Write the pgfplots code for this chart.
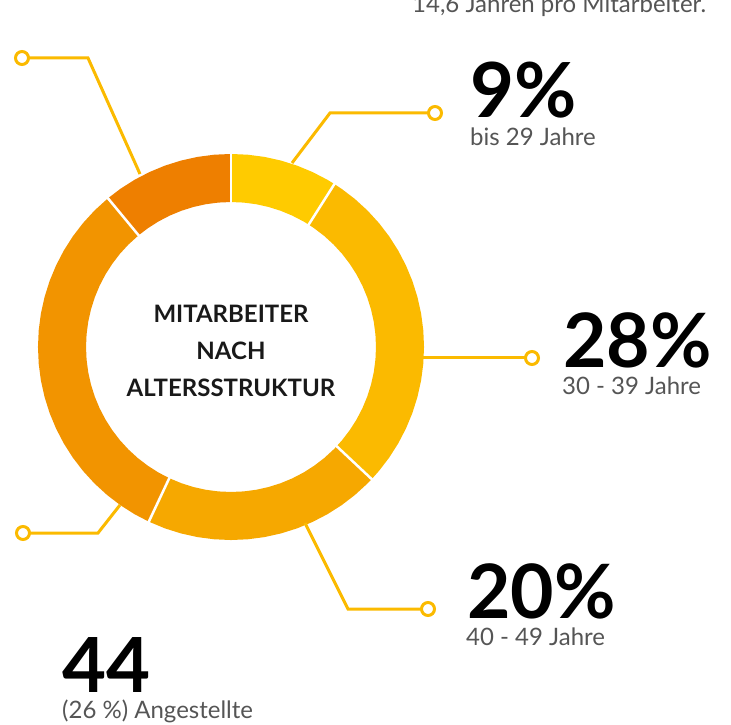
\documentclass[border=0pt]{standalone}
\usepackage{pgfplots}
\pgfplotsset{compat=1.18}
\usepackage{fontspec}
\setmainfont{Lato}
\definecolor{cA}{HTML}{FFCB00}
\definecolor{cB}{HTML}{FBBA00}
\definecolor{cC}{HTML}{F6A800}
\definecolor{cD}{HTML}{F29400}
\definecolor{cE}{HTML}{EE7F00}
\definecolor{lineC}{HTML}{FBBA00}
\definecolor{txtgray}{HTML}{555555}
\begin{document}
\begin{tikzpicture}
\begin{axis}[scale only axis, width=731pt, height=724pt,
  xmin=-231, xmax=500, ymin=-377, ymax=347, hide axis, clip=false]
% donut segments: 9%, 28%, 20%, 32%, 11% (clockwise from top), mid radius 169
\addplot[data cs=polar, cA, line width=48pt] coordinates {
(90,169)(85,169)(80,169)(75,169)(70,169)(65,169)(60,169)(57.6,169)};
\addplot[data cs=polar, cB, line width=48pt] coordinates {
(57.6,169)(55,169)(50,169)(45,169)(40,169)(35,169)(30,169)(25,169)(20,169)(15,169)(10,169)(5,169)(0,169)
(-5,169)(-10,169)(-15,169)(-20,169)(-25,169)(-30,169)(-35,169)(-40,169)(-43.2,169)};
\addplot[data cs=polar, cC, line width=48pt] coordinates {
(-43.2,169)(-45,169)(-50,169)(-55,169)(-60,169)(-65,169)(-70,169)(-75,169)(-80,169)(-85,169)
(-90,169)(-95,169)(-100,169)(-105,169)(-110,169)(-115.2,169)};
\addplot[data cs=polar, cD, line width=48pt] coordinates {
(-115.2,169)(-120,169)(-125,169)(-130,169)(-135,169)(-140,169)(-145,169)(-150,169)(-155,169)(-160,169)
(-165,169)(-170,169)(-175,169)(-180,169)(-185,169)(-190,169)(-195,169)(-200,169)(-205,169)(-210,169)
(-215,169)(-220,169)(-225,169)(-230.4,169)};
\addplot[data cs=polar, cE, line width=48pt] coordinates {
(-230.4,169)(-235,169)(-240,169)(-245,169)(-250,169)(-255,169)(-260,169)(-265,169)(-270,169)};
% separators
\addplot[data cs=polar, white, line width=2.5pt] coordinates {(90,140)(90,198)};
\addplot[data cs=polar, white, line width=2.5pt] coordinates {(57.6,140)(57.6,198)};
\addplot[data cs=polar, white, line width=2.5pt] coordinates {(-43.2,140)(-43.2,198)};
\addplot[data cs=polar, white, line width=2.5pt] coordinates {(-115.2,140)(-115.2,198)};
\addplot[data cs=polar, white, line width=2.5pt] coordinates {(-230.4,140)(-230.4,198)};
% leader lines
\addplot[lineC, line width=3pt] coordinates {(61,184)(99,234)(204,234)};
\addplot[lineC, line width=3pt] coordinates {(191,-11)(301,-11)};
\addplot[lineC, line width=3pt] coordinates {(74,-176)(117,-262)(197,-262)};
\addplot[lineC, line width=3pt] coordinates {(-111,-158)(-133,-186)(-208,-186)};
\addplot[lineC, line width=3pt] coordinates {(-91,173)(-143,289)(-209,289)};
\addplot[only marks, mark=*, mark size=6.5pt, mark options={fill=white, draw=lineC, line width=3pt}]
  coordinates {(204,234)(301,-11)(197,-262)(-208,-186)(-209,289)};
% texts
\node[anchor=base west, inner sep=0, text=txtgray, font=\fontsize{24}{28}\selectfont] at (axis cs:181,334) {14,6 Jahren pro Mitarbeiter.};
\node[anchor=base west, inner sep=0, font=\fontsize{76}{80}\selectfont\bfseries] at (axis cs:239,229) {9\%};
\node[anchor=base west, inner sep=0, text=txtgray, font=\fontsize{24}{28}\selectfont] at (axis cs:239,201) {bis 29 Jahre};
\node[anchor=base west, inner sep=0, font=\fontsize{75}{80}\selectfont\bfseries] at (axis cs:332,-21) {28\%};
\node[anchor=base west, inner sep=0, text=txtgray, font=\fontsize{24}{28}\selectfont] at (axis cs:331,-47) {30 - 39 Jahre};
\node[anchor=base west, inner sep=0, font=\fontsize{75}{80}\selectfont\bfseries] at (axis cs:236,-271) {20\%};
\node[anchor=base west, inner sep=0, text=txtgray, font=\fontsize{24}{28}\selectfont] at (axis cs:235,-298) {40 - 49 Jahre};
\node[anchor=base west, inner sep=0, font=\fontsize{76}{80}\selectfont\bfseries] at (axis cs:-169,-345) {44};
\node[anchor=base west, inner sep=0, text=txtgray, font=\fontsize{24}{28}\selectfont] at (axis cs:-169,-371) {(26 \%) Angestellte};
\node[anchor=base, inner sep=0, text=black!90, font=\fontsize{24}{28}\selectfont\bfseries] at (axis cs:0,24) {MITARBEITER};
\node[anchor=base, inner sep=0, text=black!90, font=\fontsize{24}{28}\selectfont\bfseries] at (axis cs:0,-13) {NACH};
\node[anchor=base, inner sep=0, text=black!90, font=\fontsize{24}{28}\selectfont\bfseries] at (axis cs:0,-50) {ALTERSSTRUKTUR};
\end{axis}
\pgfresetboundingbox
\useasboundingbox (current axis.south west) rectangle (current axis.north east);
\end{tikzpicture}
\end{document}
